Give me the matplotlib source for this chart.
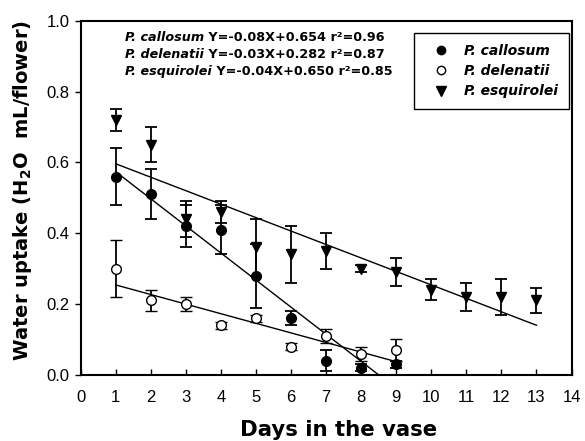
import matplotlib
matplotlib.use("Agg")
import matplotlib.pyplot as plt
from matplotlib.lines import Line2D
import numpy as np

plt.rcParams['font.family'] = ['Liberation Sans', 'DejaVu Sans']
plt.rcParams['mathtext.fontset'] = 'dejavusans'

HEAVY = ['DejaVu Sans']

# ---- data ----
days_c = [1, 2, 3, 4, 5, 6, 7, 8, 9]
callosum = [0.56, 0.51, 0.42, 0.41, 0.28, 0.16, 0.04, 0.02, 0.03]
callosum_err = [0.08, 0.07, 0.06, 0.07, 0.09, 0.02, 0.03, 0.01, 0.01]

days_d = [1, 2, 3, 4, 5, 6, 7, 8, 9]
delenatii = [0.30, 0.21, 0.20, 0.14, 0.16, 0.08, 0.11, 0.06, 0.07]
delenatii_err = [0.08, 0.03, 0.02, 0.01, 0.01, 0.01, 0.02, 0.02, 0.03]

days_e = [1, 2, 3, 4, 5, 6, 7, 8, 9, 10, 11, 12, 13]
esquirolei = [0.72, 0.65, 0.44, 0.46, 0.36, 0.34, 0.35, 0.30, 0.29, 0.24, 0.22, 0.22, 0.21]
esquirolei_err = [0.03, 0.05, 0.05, 0.03, 0.08, 0.08, 0.05, 0.01, 0.04, 0.03, 0.04, 0.05, 0.035]

# regression lines (slope, intercept, x-range)
fit_c = (-0.0765, 0.650, 1, 9)
fit_d = (-0.0271, 0.281, 1, 9)
fit_e = (-0.0380, 0.634, 1, 13)

names = ['P. callosum', 'P. delenatii', 'P. esquirolei']
eqs = [' Y=-0.08X+0.654 r\u00b2=0.96', ' Y=-0.03X+0.282 r\u00b2=0.87', ' Y=-0.04X+0.650 r\u00b2=0.85']

xticks = list(range(0, 15))
yticks = [0.0, 0.2, 0.4, 0.6, 0.8, 1.0]
ytick_labels = ['0.0', '0.2', '0.4', '0.6', '0.8', '1.0']

fig = plt.figure(figsize=(5.85, 4.41), dpi=100)
ax = fig.add_axes([0.138, 0.150, 0.839, 0.803])

# regression lines
for s, b, x0, x1 in [fit_c, fit_d, fit_e]:
    xx = np.array([x0, x1], dtype=float)
    ax.plot(xx, s * xx + b, color='black', lw=1.0, zorder=2)

ekw = dict(ecolor='black', elinewidth=1.3, capsize=4.5, capthick=1.3, ls='none', zorder=3)
ax.errorbar(days_c, callosum, yerr=callosum_err, marker='o', ms=7, mfc='black', mec='black', **ekw)
ax.errorbar(days_d, delenatii, yerr=delenatii_err, marker='o', ms=7, mfc='white', mec='black', mew=1.0, **ekw)
ax.errorbar(days_e, esquirolei, yerr=esquirolei_err, marker='v', ms=7.5, mfc='black', mec='black', **ekw)

ax.set_xlim(0, 14)
ax.set_ylim(0, 1.0)
ax.set_xticks(xticks)
ax.set_yticks(yticks)
ax.set_yticklabels(ytick_labels)
ax.tick_params(axis='x', direction='in', length=4, width=1, labelsize=12, pad=11)
ax.tick_params(axis='y', direction='out', length=4, width=1, labelsize=12, pad=4)
for sp in ax.spines.values():
    sp.set_linewidth(1.5)

ax.set_xlabel('Days in the vase', fontsize=15.3, fontweight='bold', family=HEAVY, labelpad=10.5)
ax.xaxis.label.set_x(0.526)
ax.set_ylabel(r'Water uptake (H$_{\mathbf{2}}$O  mL/flower)', fontsize=14, fontweight='bold',
              family=HEAVY, labelpad=9)
ax.yaxis.label.set_y(0.522)

# equation annotations
ys = [0.954, 0.906, 0.858]
for name, eq, y in zip(names, eqs, ys):
    t = ax.text(1.26, y, name, fontsize=9.2, fontweight='bold', style='italic', family=HEAVY,
                va='center', ha='left', transform=ax.transData)
    ax.annotate(eq, xy=(1, 0), xycoords=t, va='bottom', ha='left',
                fontsize=9.2, fontweight='bold', family=HEAVY)

handles = [
    Line2D([], [], ls='none', marker='o', ms=6, mfc='black', mec='black'),
    Line2D([], [], ls='none', marker='o', ms=6, mfc='white', mec='black', mew=1.0),
    Line2D([], [], ls='none', marker='v', ms=6.5, mfc='black', mec='black'),
]
leg = ax.legend(handles, names, loc='upper right', bbox_to_anchor=(0.995, 0.966),
                frameon=True, fancybox=False, edgecolor='black', framealpha=1,
                prop={'weight': 'bold', 'style': 'italic', 'size': 10, 'family': HEAVY},
                handlelength=2.3, handletextpad=0.5, borderpad=0.8, labelspacing=0.45,
                borderaxespad=0)
leg.get_frame().set_linewidth(1.0)

fig.savefig('out.png', dpi=100)
